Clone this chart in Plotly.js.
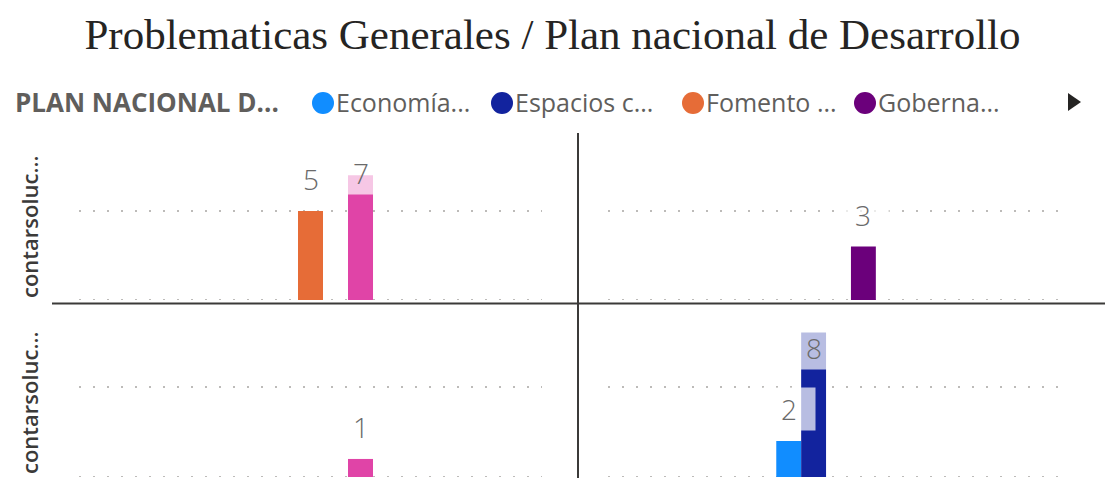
<!DOCTYPE html>
<html>
<head>
<meta charset="utf-8">
<script src="https://cdn.plot.ly/plotly-3.0.1.min.js"></script>
<style>html,body{margin:0;padding:0;background:#fff;}#chart{width:1105px;height:485px;}</style>
</head>
<body>
<div id="chart"></div>
<script>
// ---- data ----
const chartTitle = 'Problematicas Generales / Plan nacional de Desarrollo';
const legendTitle = 'PLAN NACIONAL D...';
const seriesNames = ['Economía...', 'Espacios c...', 'Fomento ...', 'Goberna...', 'Otro...'];
const seriesColors = ['#118DFF', '#12239E', '#E66C37', '#6B007B', '#E044A7'];
const legendVisible = [true, true, true, true, false];
const category = ['PND'];
const panelNames = ['arriba-izq', 'arriba-der', 'abajo-izq', 'abajo-der'];
const rowTitles = ['contarsoluc...', 'contarsoluc...'];
// values per panel, one array per series (panel order as panelNames)
const valsEconomia = [null, null, null, 2];
const valsEspacios = [null, null, null, 8];
const valsFomento  = [5, null, null, null];
const valsGoberna  = [null, 3, null, null];
const valsOtro     = [7, null, 1, null];
const seriesValues = [valsEconomia, valsEspacios, valsFomento, valsGoberna, valsOtro];
const gridVals = [0, 5];

// ---- layout constants ----
const W = 1105, H = 485;
const yMax = 8.2;
const bargap = 0.73;
const colsPx = [[79, 542], [608, 1069]];
const rowsPx = [[154, 300], [329, 477]];
const px = v => v / W;
const py = v => 1 - v / H;
const gridDash = '2px,12px';
const gridColor = '#BDBBB9';

const traces = [];
const annotations = [];
const layout = {
  width: W, height: H,
  margin: {l: 0, r: 0, t: 0, b: 0},
  paper_bgcolor: '#ffffff', plot_bgcolor: 'rgba(0,0,0,0)',
  barmode: 'group', bargap: bargap, bargroupgap: 0,
  showlegend: false,
  title: {text: chartTitle, font: {family: 'Liberation Serif, serif', size: 43, color: '#252423'},
          x: 0.5, xanchor: 'center', y: 1 - 34 / H, yanchor: 'middle'},
  shapes: [], annotations: annotations
};

panelNames.forEach((pn, p) => {
  const r = Math.floor(p / 2), c = p % 2;
  const ax = p === 0 ? '' : String(p + 1);
  layout['xaxis' + ax] = {
    domain: [px(colsPx[c][0]), px(colsPx[c][1])], anchor: 'y' + ax,
    type: 'category', showticklabels: false, showgrid: false, zeroline: false,
    showline: false, ticks: '', fixedrange: true
  };
  layout['yaxis' + ax] = {
    domain: [py(rowsPx[r][1]), py(rowsPx[r][0])], anchor: 'x' + ax,
    range: [0, yMax], tickvals: gridVals, showticklabels: false, ticks: '',
    showgrid: true, gridcolor: gridColor, griddash: gridDash, gridwidth: 2,
    zeroline: false, showline: false, fixedrange: true
  };
  // baseline dotted grid at 0 (drawn as shape since axis edge grid is skipped)
  layout.shapes.push({
    type: 'line', xref: 'x' + ax + ' domain', yref: 'y' + ax, x0: 0, x1: 1, y0: 0, y1: 0,
    line: {color: gridColor, width: 2, dash: gridDash}, layer: 'below'
  });
  const rowH = rowsPx[r][1] - rowsPx[r][0];
  const ppu = rowH / yMax;
  const slotW = (1 - bargap) / seriesNames.length;
  seriesNames.forEach((sn, s) => {
    const v = seriesValues[s][p];
    traces.push({
      type: 'bar', name: sn, x: category, y: [v === null ? 0 : v],
      xaxis: 'x' + ax, yaxis: 'y' + ax, offsetgroup: String(s),
      marker: {color: seriesColors[s], line: {width: 0}},
      hoverinfo: 'name+y', showlegend: false
    });
    if (v !== null) {
      const barTop = (yMax - v) * ppu;           // px from plot top
      const center = Math.max(barTop - 32, 19);  // label kept inside panel
      annotations.push({
        xref: 'x' + ax, yref: 'y' + ax,
        x: (s - (seriesNames.length - 1) / 2) * slotW, y: v,
        yshift: barTop - center, yanchor: 'middle', xanchor: 'center',
        text: String(v), showarrow: false,
        font: {family: 'Open Sans, sans-serif', size: 28, color: '#6A6A6A', weight: 300},
        bgcolor: 'rgba(255,255,255,0.7)', width: 50, height: 40
      });
    }
  });
});

// row titles
rowTitles.forEach((t, r) => {
  annotations.push({
    xref: 'paper', yref: 'paper', x: px(29), y: py((rowsPx[r][0] + rowsPx[r][1]) / 2),
    text: t, textangle: -90, showarrow: false, xanchor: 'center', yanchor: 'middle',
    font: {family: 'Open Sans, sans-serif', size: 22, color: '#3B3A39', weight: 600}
  });
});

// legend (drawn as annotations + circles)
const legendY = py(102);
annotations.push({
  xref: 'paper', yref: 'paper', x: px(13), y: legendY, xanchor: 'left', yanchor: 'middle',
  text: '<b>' + legendTitle + '</b>', showarrow: false,
  font: {family: 'Open Sans, sans-serif', size: 26, color: '#605E5C'}
});
const legendX = [312, 491, 682, 854];
let li = 0;
seriesNames.forEach((sn, s) => {
  if (!legendVisible[s]) return;
  const x0 = legendX[li++];
  layout.shapes.push({
    type: 'circle', xref: 'paper', yref: 'paper',
    x0: px(x0), x1: px(x0 + 22), y0: py(114), y1: py(92),
    fillcolor: seriesColors[s], line: {width: 0}
  });
  annotations.push({
    xref: 'paper', yref: 'paper', x: px(x0 + 22), y: legendY, xanchor: 'left', yanchor: 'middle',
    text: sn, showarrow: false,
    font: {family: 'Open Sans, sans-serif', size: 25, color: '#605E5C'}
  });
});
// scroll arrow
layout.shapes.push({
  type: 'path', xref: 'paper', yref: 'paper',
  path: 'M ' + px(1068) + ' ' + py(93) + ' L ' + px(1081) + ' ' + py(102) + ' L ' + px(1068) + ' ' + py(111) + ' Z',
  fillcolor: '#252423', line: {width: 0}
});

// panel dividers
layout.shapes.push({
  type: 'line', xref: 'paper', yref: 'paper', x0: px(52), x1: px(1105), y0: py(303.5), y1: py(303.5),
  line: {color: '#3B3A39', width: 2}
});
layout.shapes.push({
  type: 'line', xref: 'paper', yref: 'paper', x0: px(578), x1: px(578), y0: py(133), y1: py(478),
  line: {color: '#3B3A39', width: 2}
});

Plotly.newPlot('chart', traces, layout, {displayModeBar: false, staticPlot: true});
</script>
</body>
</html>
